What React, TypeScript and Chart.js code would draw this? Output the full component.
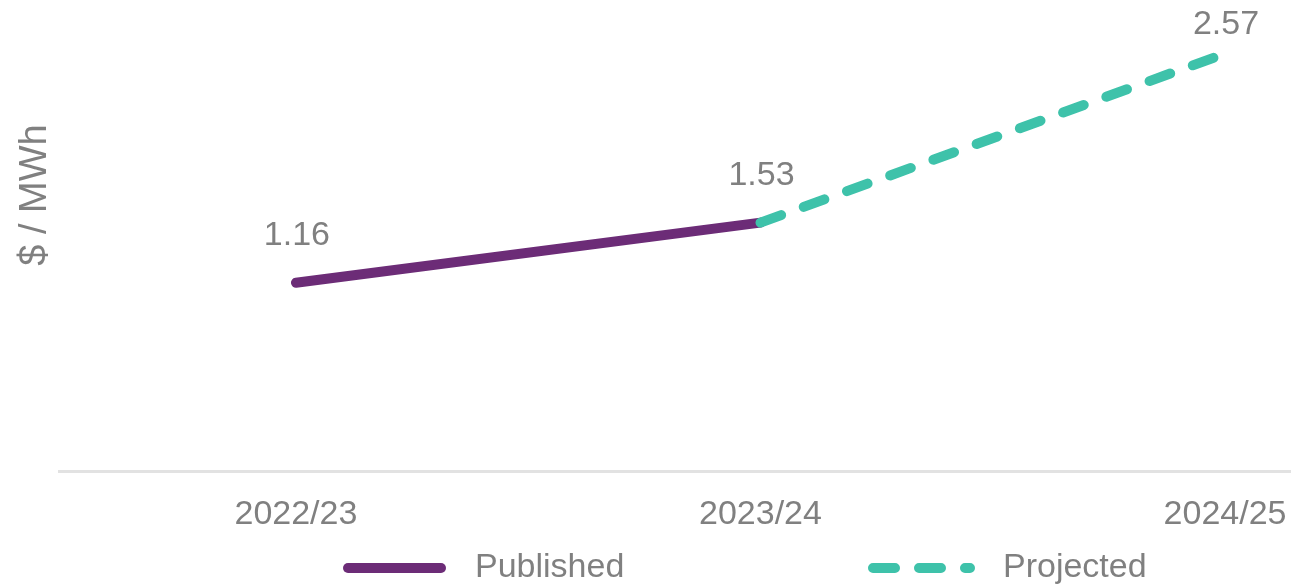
import React, { useEffect, useRef } from "react";
import { Chart, registerables } from "chart.js";

Chart.register(...registerables);

const categories: string[] = ["2022/23", "2023/24", "2024/25"];
const published: (number | null)[] = [1.16, 1.53, null];
const projected: (number | null)[] = [null, 1.53, 2.57];
const seriesNames: string[] = ["Published", "Projected"];
const yAxisTitle = "$ / MWh";

const PURPLE = "#6c2c77";
const TEAL = "#3ec2aa";
const TEXT = "#808080";
const AXIS = "#e2e2e2";
const FONT = "'Liberation Sans', Arial, sans-serif";
const DASH = [22, 24];

const toPoints = (arr: (number | null)[]) =>
  arr.map((v, i) => ({ x: i, y: v }));

const overlayPlugin = {
  id: "overlay",
  afterDatasetsDraw(chart: any) {
    const { ctx } = chart;
    const xs = chart.scales.x;
    const ys = chart.scales.y;
    ctx.save();
    // value labels
    ctx.font = `34px ${FONT}`;
    ctx.fillStyle = TEXT;
    ctx.textAlign = "center";
    ctx.textBaseline = "middle";
    categories.forEach((_, i) => {
      const v = published[i] ?? projected[i];
      if (v == null) return;
      const px = xs.getPixelForValue(i);
      const py = ys.getPixelForValue(v);
      const ly = Math.max(py - 47, 25);
      ctx.fillText(v.toFixed(2), px + 1, ly);
    });
    // y axis title
    ctx.save();
    ctx.font = `38px ${FONT}`;
    ctx.translate(36, 195);
    ctx.rotate(-Math.PI / 2);
    ctx.fillText(yAxisTitle, 0, 0);
    ctx.restore();
    // legend
    const ly = 568;
    const items = [
      { name: seriesNames[0], color: PURPLE, dash: [] as number[], x0: 348, x1: 441, tx: 475 },
      { name: seriesNames[1], color: TEAL, dash: DASH, x0: 873, x1: 970, tx: 1003 },
    ];
    items.forEach((it) => {
      ctx.save();
      ctx.strokeStyle = it.color;
      ctx.lineWidth = 10;
      ctx.lineCap = "round";
      ctx.setLineDash(it.dash);
      ctx.beginPath();
      ctx.moveTo(it.x0, ly);
      ctx.lineTo(it.x1, ly);
      ctx.stroke();
      ctx.restore();
      ctx.font = `34px ${FONT}`;
      ctx.fillStyle = TEXT;
      ctx.textAlign = "left";
      ctx.textBaseline = "middle";
      ctx.fillText(it.name, it.tx, ly);
    });
    ctx.restore();
  },
};

export default function App() {
  const ref = useRef<HTMLCanvasElement | null>(null);
  useEffect(() => {
    if (!ref.current) return;
    const chart = new Chart(ref.current, {
      type: "line",
      data: {
        datasets: [
          {
            label: seriesNames[1],
            data: toPoints(projected) as any,
            borderColor: TEAL,
            borderWidth: 10,
            borderDash: DASH,
            borderCapStyle: "round",
            pointRadius: 0,
            tension: 0,
            spanGaps: false,
            order: 0,
          },
          {
            label: seriesNames[0],
            data: toPoints(published) as any,
            borderColor: PURPLE,
            borderWidth: 10,
            borderCapStyle: "round",
            pointRadius: 0,
            tension: 0,
            order: 1,
          },
        ],
      },
      options: {
        animation: false,
        responsive: false,
        maintainAspectRatio: false,
        layout: { padding: { left: 59, right: 0, top: 0, bottom: 49 } },
        plugins: {
          legend: { display: false },
          tooltip: { enabled: false },
        },
        scales: {
          x: {
            type: "linear",
            min: -0.51,
            max: 2.142,
            grid: { display: false, drawTicks: true, tickLength: 20 },
            border: { display: true, color: AXIS, width: 3 },
            afterBuildTicks: (scale: any) => {
              scale.ticks = categories.map((_, i) => ({ value: i }));
            },
            ticks: {
              padding: 3,
              color: TEXT,
              font: { size: 34, family: FONT },
              maxRotation: 0,
              autoSkip: false,
              callback: (value: any) => categories[value as number] ?? "",
            },
          },
          y: {
            display: false,
            min: 0,
            max: 2.9,
          },
        },
      },
      plugins: [overlayPlugin],
    });
    return () => chart.destroy();
  }, []);
  return (
    <div style={{ position: "absolute", left: 0, top: 0, width: 1291, height: 587, background: "#fff" }}>
      <canvas ref={ref} width={1291} height={587} style={{ display: "block" }} />
    </div>
  );
}
